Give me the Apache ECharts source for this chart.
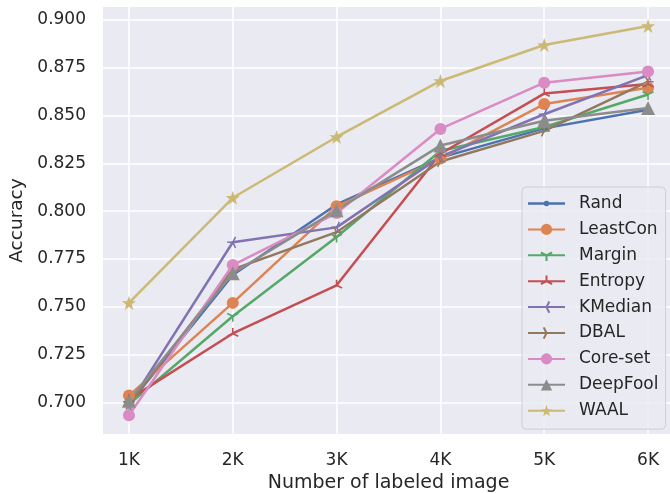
<!DOCTYPE html>
<html>
<head>
<meta charset="utf-8">
<script src="https://cdn.jsdelivr.net/npm/echarts@6/dist/echarts.min.js"></script>
<style>html,body{margin:0;padding:0;background:#fff;}#c{width:670px;height:493px;}</style>
</head>
<body>
<div id="c"></div>
<script>
var xValues = [1, 2, 3, 4, 5, 6];
var xTickLabels = ['1K', '2K', '3K', '4K', '5K', '6K'];
var yTicks = [0.700, 0.725, 0.750, 0.775, 0.800, 0.825, 0.850, 0.875, 0.900];

var seriesNames = ['Rand', 'LeastCon', 'Margin', 'Entropy', 'KMedian', 'DBAL', 'Core-set', 'DeepFool', 'WAAL'];
var rand     = [0.6990, 0.7666, 0.8035, 0.8280, 0.8433, 0.8530];
var leastCon = [0.7035, 0.7520, 0.8025, 0.8275, 0.8560, 0.8645];
var margin   = [0.6990, 0.7450, 0.7865, 0.8315, 0.8440, 0.8610];
var entropy  = [0.7015, 0.7360, 0.7612, 0.8300, 0.8615, 0.8665];
var kMedian  = [0.6985, 0.7837, 0.7915, 0.8285, 0.8507, 0.8712];
var dbal     = [0.6990, 0.7695, 0.7890, 0.8260, 0.8420, 0.8677];
var coreSet  = [0.6932, 0.7718, 0.7990, 0.8430, 0.8672, 0.8730];
var deepFool = [0.7008, 0.7675, 0.8005, 0.8343, 0.8473, 0.8540];
var waal     = [0.7520, 0.8070, 0.8388, 0.8681, 0.8869, 0.8969];
var allValues = [rand, leastCon, margin, entropy, kMedian, dbal, coreSet, deepFool, waal];

var colors = ['#4C72B0', '#DD8452', '#55A868', '#C44E52', '#8172B3', '#937860', '#DA8BC3', '#8C8C8C', '#CCB974'];

var TRI_DOWN = 'path://M0,0 L0,1 M0,0 L-0.866,-0.5 M0,0 L0.866,-0.5 M0,-1 L0,-1';
var TRI_UP = 'path://M0,0 L0,-1 M0,0 L-0.866,0.5 M0,0 L0.866,0.5 M0,1 L0,1';
var TRI_LEFT = 'path://M0,0 L-1,0 M0,0 L0.5,-0.866 M0,0 L0.5,0.866 M1,0 L1,0';
var TRI_RIGHT = 'path://M0,0 L1,0 M0,0 L-0.5,-0.866 M0,0 L-0.5,0.866 M-1,0 L-1,0';
var STAR = 'path://M0,-1 L0.235,-0.324 L0.951,-0.309 L0.380,0.124 L0.588,0.809 L0,0.4 L-0.588,0.809 L-0.380,0.124 L-0.951,-0.309 L-0.235,-0.324 Z';
var RAND_ICON = 'path://M0,0 L0.01,0 L0,0.01 Z M37,14 L36.99,14 L37,13.99 Z M0,5.8 L37,5.8 L37,8.2 L0,8.2 Z M15.7,7 A2.8,2.8 0 1,1 21.3,7 A2.8,2.8 0 1,1 15.7,7 Z';

var symbols = ['circle', 'circle', TRI_DOWN, TRI_UP, TRI_LEFT, TRI_RIGHT, 'circle', 'triangle', STAR];
var symbolSizes = [6, 12, 11, 11, 11, 11, 12, 14, 14];
var lineMarker = [false, false, true, true, true, true, false, false, false];

var FONT = 'DejaVu Sans';
var TEXT = '#262626';

var series = seriesNames.map(function (name, i) {
  return {
    name: name,
    type: 'line',
    data: xValues.map(function (x, j) { return [x, allValues[i][j]]; }),
    symbol: symbols[i],
    symbolSize: symbolSizes[i],
    showAllSymbol: true,
    lineStyle: { color: colors[i], width: 2.5 },
    itemStyle: lineMarker[i]
      ? { color: colors[i], borderColor: colors[i], borderWidth: 1.6 }
      : { color: colors[i], borderWidth: 0 },
    emphasis: { disabled: true },
    animation: false
  };
});

var legendData = seriesNames.map(function (name, i) {
  return i === 0 ? { name: name, icon: RAND_ICON } : { name: name };
});

var chart = echarts.init(document.getElementById('c'), null, { renderer: 'canvas' });
chart.setOption({
  animation: false,
  color: colors,
  grid: {
    left: 103, top: 7, width: 571, height: 427,
    outerBoundsMode: 'none',
    containLabel: false,
    show: true, backgroundColor: '#EAEAF2', borderWidth: 0
  },
  xAxis: {
    type: 'value',
    min: 0.75, max: 6.25,
    axisLine: { show: false },
    axisTick: { show: false, customValues: xValues },
    axisLabel: {
      customValues: xValues,
      formatter: function (v) { var k = xValues.indexOf(Math.round(v)); return k >= 0 ? xTickLabels[k] : ''; },
      fontFamily: FONT, fontSize: 17, color: TEXT, margin: 18
    },
    splitLine: { show: true, lineStyle: { color: '#ffffff', width: 1.5 } },
    name: 'Number of labeled image',
    nameLocation: 'middle',
    nameGap: 40,
    nameTextStyle: { fontFamily: FONT, fontSize: 19, color: TEXT, verticalAlign: 'top' }
  },
  yAxis: {
    type: 'value',
    min: 0.6834, max: 0.9068,
    axisLine: { show: false },
    axisTick: { show: false, customValues: yTicks },
    axisLabel: {
      customValues: yTicks,
      formatter: function (v) { return v.toFixed(3); },
      fontFamily: FONT, fontSize: 17, color: TEXT, margin: 17
    },
    splitLine: { show: true, lineStyle: { color: '#ffffff', width: 1.5 } },
    name: 'Accuracy',
    nameLocation: 'middle',
    nameGap: 66,
    nameTextStyle: { fontFamily: FONT, fontSize: 18.5, color: TEXT }
  },
  legend: {
    orient: 'vertical',
    left: 522, top: 187,
    padding: [8, 7, 10, 5],
    itemWidth: 37, itemHeight: 14, itemGap: 8.9,
    backgroundColor: 'rgba(234,234,242,0.85)',
    borderColor: '#cfcfd6', borderWidth: 1, borderRadius: 4,
    textStyle: { fontFamily: FONT, fontSize: 17, color: TEXT, padding: [0, 0, 0, 9] },
    data: legendData
  },
  series: series
});
</script>
</body>
</html>
